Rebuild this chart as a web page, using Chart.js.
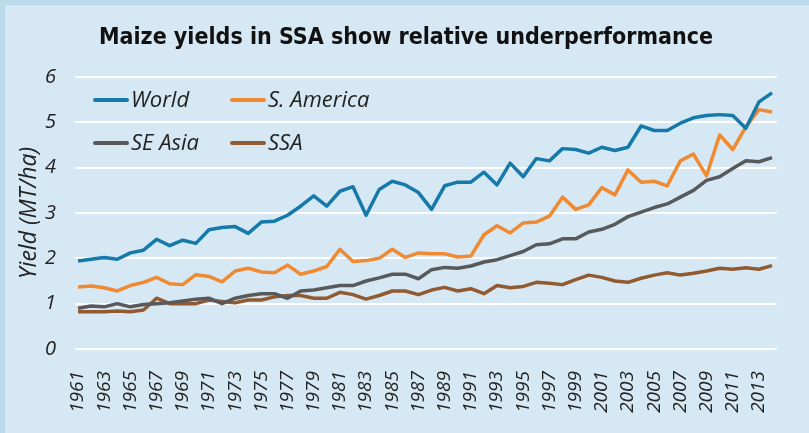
<!DOCTYPE html>
<html lang="en">

<head>
    <meta charset="UTF-8">
    <title>Maize yields</title>
    <style>
        body { margin: 0; background: #bcd9ea; }
    </style>
</head>

<body>

    <div style="width: 809px; height: 433px;">
        <canvas id="myChart"></canvas>
    </div>

    <script src="https://cdn.jsdelivr.net/npm/chart.js"></script>
    <script>
        // years 1961 - 2014
        let v_years = [];
        for (let i = 1961; i <= 2014; i++) v_years.push(i);

        let v_tickYears = v_years.filter(y => y % 2 == 1 && y <= 2013);
        let v_yTicks = [0, 1, 2, 3, 4, 5, 6];

        let v_title = "Maize yields in SSA show relative underperformance";

        let v_world = [1.94, 1.98, 2.02, 1.98, 2.12, 2.18, 2.42, 2.28, 2.40, 2.33,
            2.63, 2.68, 2.70, 2.55, 2.80, 2.82, 2.95, 3.15, 3.38, 3.15,
            3.48, 3.58, 2.95, 3.52, 3.70, 3.62, 3.45, 3.08, 3.60, 3.68,
            3.68, 3.90, 3.62, 4.10, 3.80, 4.20, 4.15, 4.42, 4.40, 4.32,
            4.45, 4.38, 4.45, 4.92, 4.82, 4.82, 4.98, 5.10, 5.15, 5.17,
            5.15, 4.87, 5.45, 5.65];

        let v_sAmerica = [1.37, 1.39, 1.35, 1.28, 1.40, 1.47, 1.58, 1.44, 1.42, 1.64,
            1.60, 1.48, 1.72, 1.78, 1.70, 1.68, 1.85, 1.65, 1.72, 1.82,
            2.20, 1.93, 1.95, 2.00, 2.20, 2.02, 2.12, 2.10, 2.10, 2.03,
            2.05, 2.52, 2.72, 2.56, 2.78, 2.80, 2.93, 3.35, 3.08, 3.18,
            3.56, 3.40, 3.95, 3.68, 3.70, 3.60, 4.15, 4.30, 3.82, 4.72,
            4.40, 4.90, 5.28, 5.23];

        let v_seAsia = [0.90, 0.95, 0.93, 1.00, 0.93, 0.98, 1.00, 1.02, 1.06, 1.10,
            1.12, 1.00, 1.12, 1.18, 1.22, 1.22, 1.12, 1.28, 1.30, 1.35,
            1.40, 1.40, 1.50, 1.57, 1.65, 1.65, 1.55, 1.75, 1.80, 1.78,
            1.83, 1.92, 1.97, 2.06, 2.15, 2.30, 2.32, 2.43, 2.43, 2.58,
            2.64, 2.75, 2.92, 3.02, 3.12, 3.20, 3.35, 3.50, 3.72, 3.80,
            3.98, 4.15, 4.13, 4.22];

        let v_ssa = [0.82, 0.82, 0.82, 0.84, 0.82, 0.86, 1.12, 1.00, 1.00, 1.00,
            1.08, 1.05, 1.02, 1.08, 1.08, 1.15, 1.18, 1.18, 1.12, 1.12,
            1.25, 1.20, 1.10, 1.18, 1.28, 1.28, 1.20, 1.30, 1.36, 1.28,
            1.33, 1.22, 1.40, 1.35, 1.38, 1.47, 1.45, 1.42, 1.53, 1.63,
            1.58, 1.50, 1.47, 1.56, 1.63, 1.68, 1.63, 1.67, 1.72, 1.78,
            1.76, 1.79, 1.76, 1.84];

        let v_names = ["World", "S. America", "SE Asia", "SSA"];
        let v_colors = ["#1579aa", "#f08a32", "#58595b", "#925a30"];
        let v_series = [v_world, v_sAmerica, v_seAsia, v_ssa];

        let v_datasets = [];
        for (let i = 0; i < v_series.length; i++) {
            v_datasets.push({
                label: v_names[i],
                data: v_series[i],
                borderColor: v_colors[i],
                backgroundColor: v_colors[i],
                borderWidth: 3.5,
                pointRadius: 0,
                tension: 0,
                borderJoinStyle: "round"
            });
        }

        // panel background + left/top border, title centred on the panel
        const p_background = {
            id: "p_background",
            beforeDraw(chart) {
                let c = chart.ctx;
                c.save();
                c.fillStyle = "#bcd9ea";
                c.fillRect(0, 0, chart.width, chart.height);
                c.fillStyle = "#d6e8f4";
                c.fillRect(5, 5, chart.width - 5, chart.height - 5);
                c.fillStyle = "#111";
                c.font = "bold 23px 'DejaVu Sans Condensed'";
                c.textAlign = "center";
                c.textBaseline = "middle";
                c.fillText(v_title, 406, 38);
                c.restore();
            }
        };

        // two column legend inside plot
        const p_legend = {
            id: "p_legend",
            afterDraw(chart) {
                let c = chart.ctx;
                let pos = [[95, 100], [232, 100], [95, 143], [232, 143]];
                c.save();
                c.font = "italic 22px 'Open Sans'";
                c.textBaseline = "middle";
                c.lineCap = "round";
                chart.data.datasets.forEach((ds, i) => {
                    let x = pos[i][0], y = pos[i][1];
                    c.strokeStyle = ds.borderColor;
                    c.lineWidth = 4;
                    c.beginPath();
                    c.moveTo(x, y);
                    c.lineTo(x + 32, y);
                    c.stroke();
                    c.fillStyle = "#222";
                    c.fillText(ds.label, x + 36, y + 1);
                });
                c.restore();
            }
        };

        const ctx = document.querySelector("#myChart");

        new Chart(ctx, {
            type: "line",
            data: {
                labels: v_years,
                datasets: v_datasets
            },
            plugins: [p_background, p_legend],
            options: {
                responsive: true,
                maintainAspectRatio: false,
                animation: false,
                layout: { padding: { left: 0, right: 32, top: 77, bottom: 0 } },
                plugins: {
                    legend: { display: false },
                    tooltip: { enabled: false },
                    title: { display: false }
                },
                scales: {
                    x: {
                        type: "linear",
                        min: 1960.77,
                        max: 2014.38,
                        afterBuildTicks: (scale) => {
                            scale.ticks = v_tickYears.map(v => ({ value: v }));
                        },
                        afterFit: (scale) => { scale.height = 84; },
                        grid: { display: false },
                        border: { display: false },
                        ticks: {
                            autoSkip: false,
                            minRotation: 90,
                            maxRotation: 90,
                            padding: 14,
                            color: "#222",
                            font: { family: "'Open Sans'", size: 19, style: "italic" },
                            callback: (v) => String(v)
                        }
                    },
                    y: {
                        min: 0,
                        max: 6,
                        afterBuildTicks: (scale) => {
                            scale.ticks = v_yTicks.map(v => ({ value: v }));
                        },
                        afterFit: (scale) => { scale.width = 75; },
                        grid: { color: "#ffffff", lineWidth: 2, drawTicks: false },
                        border: { display: false },
                        ticks: {
                            padding: 19,
                            color: "#222",
                            font: { family: "'Open Sans'", size: 20, style: "italic" }
                        },
                        title: {
                            display: true,
                            text: "Yield (MT/ha)",
                            color: "#222",
                            font: { family: "'Open Sans'", size: 23, style: "italic" },
                            padding: { top: 16, bottom: 0 }
                        }
                    }
                }
            }
        });
    </script>

</body>

</html>
